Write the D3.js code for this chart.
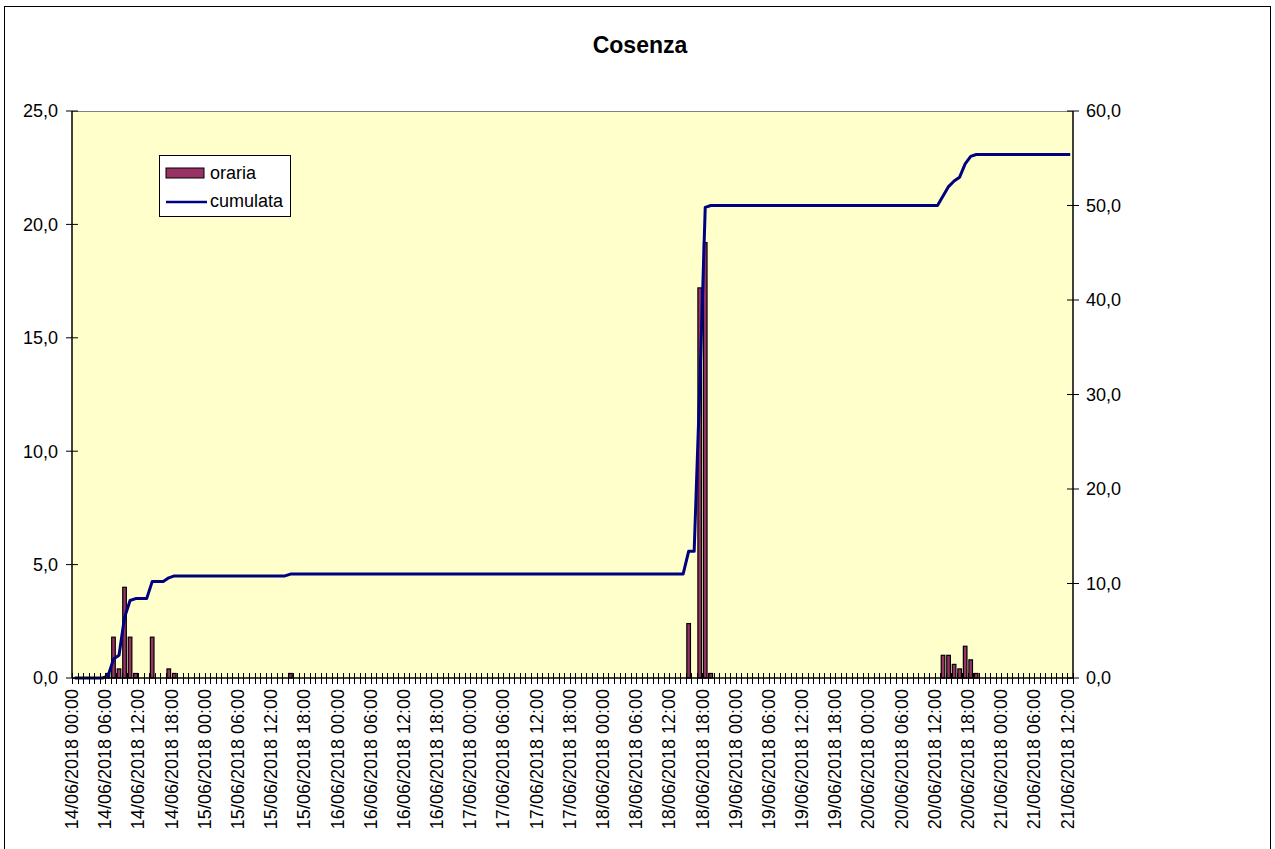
<!DOCTYPE html>
<html><head><meta charset="utf-8">
<script src="https://cdn.jsdelivr.net/npm/d3@7/dist/d3.min.js"></script>
<style>body{margin:0;background:#fff}svg{display:block}text{font-family:"Liberation Sans",Arial,sans-serif}</style>
</head><body>
<svg id="c" width="1275" height="849"></svg>
<script>
// hourly categories: 14/06/2018 00:00 .. 21/06/2018 12:00 (181 hours)
const days = ["14","15","16","17","18","19","20","21"];
const categories = [];
days.forEach((d,di)=>{ for(let h=0;h<24;h++){ if(di===7 && h>12) break; categories.push(d+"/06/2018 "+String(h).padStart(2,"0")+":00"); } });

const orari = [
 0,0,0,0,0,0,0.2,1.8,0.4,4.0,1.8,0.2,0,0,1.8,0,0,0.4,0.2,0,0,0,0,0,
 0,0,0,0,0,0,0,0,0,0,0,0,0,0,0,0.2,0,0,0,0,0,0,0,0,
 0,0,0,0,0,0,0,0,0,0,0,0,0,0,0,0,0,0,0,0,0,0,0,0,
 0,0,0,0,0,0,0,0,0,0,0,0,0,0,0,0,0,0,0,0,0,0,0,0,
 0,0,0,0,0,0,0,0,0,0,0,0,0,0,0,2.4,0,17.2,19.2,0.2,0,0,0,0,
 0,0,0,0,0,0,0,0,0,0,0,0,0,0,0,0,0,0,0,0,0,0,0,0,
 0,0,0,0,0,0,0,0,0,0,0,0,0,1.0,1.0,0.6,0.4,1.4,0.8,0.2,0,0,0,0,
 0,0,0,0,0,0,0,0,0,0,0,0,0
];
const cumulata = [
 0,0,0,0,0,0,0.2,2.0,2.4,6.4,8.2,8.4,8.4,8.4,10.2,10.2,10.2,10.6,10.8,10.8,10.8,10.8,10.8,10.8,
 10.8,10.8,10.8,10.8,10.8,10.8,10.8,10.8,10.8,10.8,10.8,10.8,10.8,10.8,10.8,11.0,11.0,11.0,11.0,11.0,11.0,11.0,11.0,11.0,
 11.0,11.0,11.0,11.0,11.0,11.0,11.0,11.0,11.0,11.0,11.0,11.0,11.0,11.0,11.0,11.0,11.0,11.0,11.0,11.0,11.0,11.0,11.0,11.0,
 11.0,11.0,11.0,11.0,11.0,11.0,11.0,11.0,11.0,11.0,11.0,11.0,11.0,11.0,11.0,11.0,11.0,11.0,11.0,11.0,11.0,11.0,11.0,11.0,
 11.0,11.0,11.0,11.0,11.0,11.0,11.0,11.0,11.0,11.0,11.0,11.0,11.0,11.0,11.0,13.4,13.4,30.6,49.8,50.0,50.0,50.0,50.0,50.0,
 50.0,50.0,50.0,50.0,50.0,50.0,50.0,50.0,50.0,50.0,50.0,50.0,50.0,50.0,50.0,50.0,50.0,50.0,50.0,50.0,50.0,50.0,50.0,50.0,
 50.0,50.0,50.0,50.0,50.0,50.0,50.0,50.0,50.0,50.0,50.0,50.0,50.0,51.0,52.0,52.6,53.0,54.4,55.2,55.4,55.4,55.4,55.4,55.4,
 55.4,55.4,55.4,55.4,55.4,55.4,55.4,55.4,55.4,55.4,55.4,55.4,55.4
];
const leftTicks = [0,5,10,15,20,25];
const rightTicks = [0,10,20,30,40,50,60];
const title = "Cosenza";
const seriesNames = ["oraria","cumulata"];

const svg = d3.select("#c");
const L=72, R=1073, T=111, B=678;
const fmt = v => d3.format(".1f")(v).replace(".",",");

svg.append("rect").attr("x",4.5).attr("y",6.5).attr("width",1266).attr("height",860)
  .attr("fill","#fff").attr("stroke","#000").attr("stroke-width",1);

const x = d3.scaleBand().domain(categories).range([L,R]).paddingInner(0).paddingOuter(0);
const yL = d3.scaleLinear().domain([0,25]).range([B,T]);
const yR = d3.scaleLinear().domain([0,60]).range([B,T]);

svg.append("rect").attr("x",L).attr("y",T).attr("width",R-L).attr("height",B-T)
  .attr("fill","#FFFFCC");
svg.append("line").attr("x1",L).attr("x2",R).attr("y1",T+0.5).attr("y2",T+0.5).attr("stroke","#808080");

// bars
const bw = x.bandwidth()*0.65;
svg.append("g").selectAll("rect").data(orari.map((v,i)=>({v,c:categories[i]})).filter(d=>d.v>0))
  .join("rect")
  .attr("x",d=>x(d.c)+x.bandwidth()/2-bw/2).attr("width",bw)
  .attr("y",d=>yL(d.v)).attr("height",d=>B-yL(d.v))
  .attr("fill","#993366").attr("stroke","#000").attr("stroke-width",1.2);

// line
const line = d3.line().x((d,i)=>x(categories[i])+x.bandwidth()/2).y(d=>yR(d));
svg.append("path").datum(cumulata).attr("d",line).attr("fill","none")
  .attr("stroke","#000080").attr("stroke-width",3).attr("stroke-linejoin","round");

// x axis
const gx = svg.append("g");
gx.append("line").attr("x1",L).attr("x2",R).attr("y1",B).attr("y2",B).attr("stroke","#000").attr("stroke-width",1.5);
const bounds = d3.range(categories.length+1).map(i=>L+i*x.bandwidth());
gx.selectAll("line.t").data(bounds).join("line").attr("class","t")
  .attr("x1",d=>Math.round(d)+0.5).attr("x2",d=>Math.round(d)+0.5).attr("y1",673).attr("y2",684)
  .attr("stroke","#000").attr("stroke-width",1);
const labelCats = categories.filter((c,i)=>i%6===0);
gx.selectAll("text").data(labelCats).join("text")
  .attr("transform",d=>`translate(${x(d)+x.bandwidth()/2-3},689) rotate(-90)`)
  .attr("text-anchor","end").attr("dy","0.35em").attr("font-size",18).text(d=>d);

// left axis
const gl = svg.append("g");
gl.append("line").attr("x1",L).attr("x2",L).attr("y1",T).attr("y2",B).attr("stroke","#000").attr("stroke-width",1.5);
gl.selectAll("line.t").data(leftTicks).join("line").attr("class","t")
  .attr("x1",66).attr("x2",78).attr("y1",d=>yL(d)).attr("y2",d=>yL(d)).attr("stroke","#000");
gl.selectAll("text").data(leftTicks).join("text")
  .attr("x",58).attr("y",d=>yL(d)).attr("dy","0.35em").attr("text-anchor","end").attr("font-size",18).text(fmt);

// right axis
const gr = svg.append("g");
gr.append("line").attr("x1",R).attr("x2",R).attr("y1",T).attr("y2",B).attr("stroke","#000").attr("stroke-width",1.5);
gr.selectAll("line.t").data(rightTicks).join("line").attr("class","t")
  .attr("x1",1067).attr("x2",1079).attr("y1",d=>yR(d)).attr("y2",d=>yR(d)).attr("stroke","#000");
gr.selectAll("text").data(rightTicks).join("text")
  .attr("x",1086).attr("y",d=>yR(d)).attr("dy","0.35em").attr("text-anchor","start").attr("font-size",18).text(fmt);

// title
svg.append("text").attr("x",640).attr("y",53).attr("text-anchor","middle")
  .attr("font-size",23).attr("font-weight","bold").text(title);

// legend
const lg = svg.append("g");
lg.append("rect").attr("x",159.5).attr("y",155.5).attr("width",131).attr("height",61)
  .attr("fill","#fff").attr("stroke","#000");
lg.append("rect").attr("x",166).attr("y",168).attr("width",38).attr("height",10)
  .attr("fill","#993366").attr("stroke","#000");
lg.append("line").attr("x1",166).attr("x2",207).attr("y1",202).attr("y2",202)
  .attr("stroke","#000080").attr("stroke-width",2.5);
lg.append("text").attr("x",210).attr("y",173).attr("dy","0.35em").attr("font-size",18).text(seriesNames[0]);
lg.append("text").attr("x",210).attr("y",201).attr("dy","0.35em").attr("font-size",18).text(seriesNames[1]);
</script>
</body></html>
